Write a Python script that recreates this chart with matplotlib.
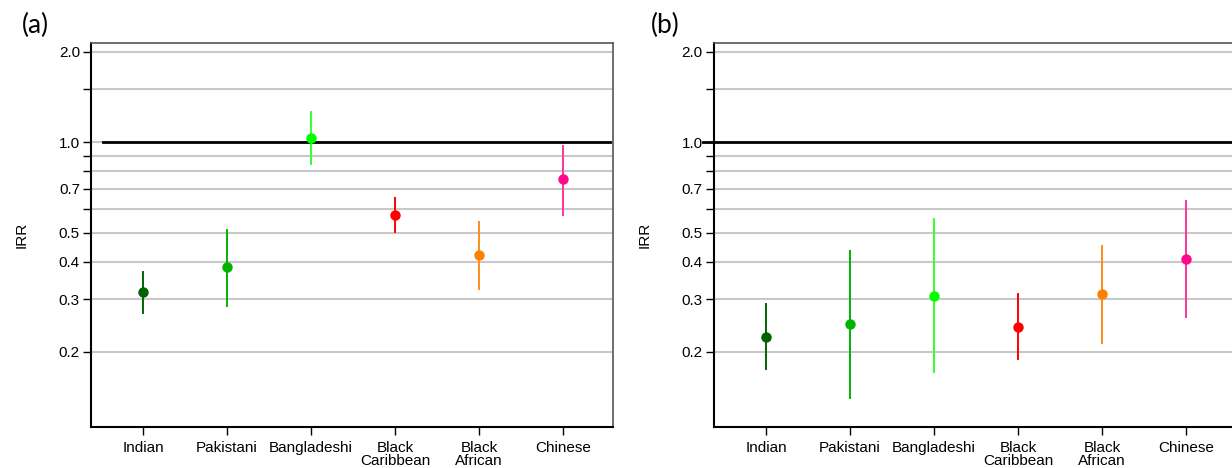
import numpy as np
import matplotlib.pyplot as plt
from matplotlib.ticker import FixedLocator, NullFormatter, FixedFormatter

plt.rcParams['font.family'] = ['Liberation Sans', 'DejaVu Sans']

groups = ['Indian', 'Pakistani', 'Bangladeshi', 'Black\nCaribbean', 'Black\nAfrican', 'Chinese']
pt_colors = ['#006400', '#00B400', '#00FF00', '#FF0000', '#FF8000', '#FF0A8C']
ln_colors = ['#006400', '#00B400', '#33FF33', '#FF0000', '#FF8C1A', '#FF3399']

# panel (a)
irr_a = [0.317, 0.383, 1.036, 0.572, 0.421, 0.753]
lo_a = [0.270, 0.285, 0.847, 0.504, 0.325, 0.574]
hi_a = [0.370, 0.510, 1.259, 0.651, 0.541, 0.970]

# panel (b)
irr_b = [0.224, 0.247, 0.307, 0.243, 0.312, 0.409]
lo_b = [0.175, 0.141, 0.171, 0.190, 0.215, 0.261]
hi_b = [0.288, 0.434, 0.554, 0.312, 0.450, 0.639]

major = [0.2, 0.3, 0.4, 0.5, 0.7, 1.0, 2.0]
minor = [0.6, 0.8, 0.9, 1.5]
major_labels = ['0.2', '0.3', '0.4', '0.5', '0.7', '1.0', '2.0']

fig = plt.figure(figsize=(12.32, 4.68), dpi=100)
ax_a = fig.add_axes([0.0739, 0.0876, 0.4237, 0.8205])
ax_b = fig.add_axes([0.5795, 0.0876, 0.4237, 0.8205])


def draw(ax, irr, lo, hi, line_x):
    x = np.arange(1, len(groups) + 1)
    ax.set_yscale('log')
    ax.set_ylim(0.1125, 2.14)
    ax.set_xlim(0.381, 6.595)
    for yv in major + minor:
        ax.axhline(yv, color='#c8c8c8', lw=1.5, zorder=0)
    ax.plot(line_x, [1, 1], color='black', lw=2, zorder=1, clip_on=False)
    for i in range(len(x)):
        ax.plot([x[i], x[i]], [lo[i], hi[i]], color=ln_colors[i], lw=1.4, zorder=2)
        ax.plot(x[i], irr[i], 'o', color=pt_colors[i], ms=7.5, mec='none', zorder=3)
    ax.yaxis.set_major_locator(FixedLocator(major))
    ax.yaxis.set_major_formatter(FixedFormatter(major_labels))
    ax.yaxis.set_minor_locator(FixedLocator(minor))
    ax.yaxis.set_minor_formatter(NullFormatter())
    ax.set_xticks(x)
    ax.set_xticklabels(groups, fontsize=11, linespacing=0.95)
    ax.tick_params(axis='y', which='both', length=6, width=1, labelsize=11, pad=2)
    ax.tick_params(axis='x', length=6, width=1, pad=4)
    ax.set_ylabel('IRR', fontsize=11, labelpad=22)
    for s in ['left', 'bottom']:
        ax.spines[s].set_linewidth(1.5)
        ax.spines[s].set_color('black')
    for s in ['top', 'right']:
        ax.spines[s].set_linewidth(1.2)
        ax.spines[s].set_color('#555555')


draw(ax_a, irr_a, lo_a, hi_a, [0.524, 6.56])
draw(ax_b, irr_b, lo_b, hi_b, [0.25, 6.6])

fig.text(22 / 1232, 0.946, '(a)', fontsize=19, family=['Lato', 'DejaVu Sans'],
         ha='left', va='center')
fig.text(651 / 1232, 0.946, '(b)', fontsize=19, family=['Lato', 'DejaVu Sans'],
         ha='left', va='center')

fig.savefig('out.png', dpi=100)
